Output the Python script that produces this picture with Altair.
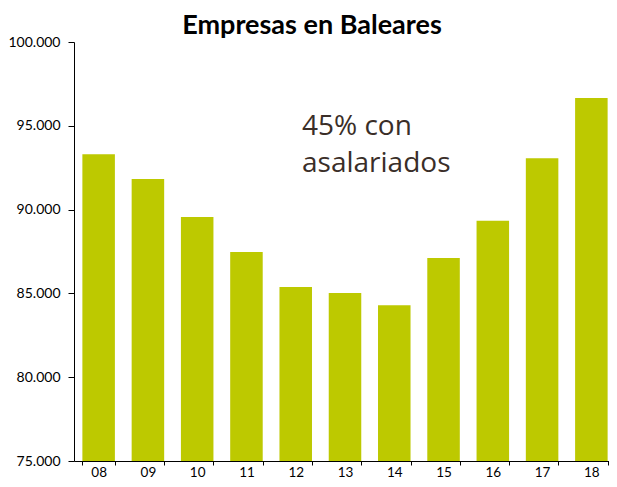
import altair as alt
import pandas as pd

years = ["08", "09", "10", "11", "12", "13", "14", "15", "16", "17", "18"]
empresas = [93300, 91830, 89560, 87470, 85380, 85020, 84290, 87110, 89340, 93060, 96660]
y_ticks = [75000, 80000, 85000, 90000, 95000, 100000]
title_text = "Empresas en Baleares"
note_lines = ["45% con", "asalariados"]

df = pd.DataFrame({"year": years, "empresas": empresas})

bars = alt.Chart(df).mark_bar(color="#bdc900", clip=True).encode(
    x=alt.X("year:N", sort=years, title=None,
            scale=alt.Scale(paddingInner=0.34, paddingOuter=0.17),
            axis=alt.Axis(labelAngle=0, tickBand="extent", tickSize=4,
                          labelPadding=0, domainColor="#000000", tickColor="#000000",
                          labelFont="Lato", labelFontSize=13.5, labelColor="#000000")),
    y=alt.Y("empresas:Q", title=None,
            scale=alt.Scale(domain=[75000, 100000], zero=False, nice=False),
            axis=alt.Axis(values=y_ticks, grid=False, tickSize=6, labelPadding=8,
                          domainColor="#000000", tickColor="#000000",
                          labelFont="Lato", labelFontSize=14, labelColor="#000000",
                          labelExpr="replace(format(datum.value, ',.0f'), ',', '.')")),
)

note = alt.Chart(pd.DataFrame({"t": [0]})).mark_text(
    text=note_lines, align="left", baseline="alphabetic", font="Open Sans",
    fontSize=28, lineHeight=36.7, color="#3a2e28"
).encode(x=alt.value(228), y=alt.value(93))

chart = alt.layer(bars, note).properties(
    width=542, height=419,
    autosize=alt.AutoSizeParams(type="none"),
    padding={"left": 66, "top": 34, "right": -7, "bottom": 18},
    title=alt.TitleParams(title_text, font="Lato", fontSize=27, fontWeight="bold",
                          color="#000000", anchor="middle", frame="bounds", offset=-5),
).configure_view(stroke=None)

chart.save("out.html", embed_options={"renderer": "svg", "actions": False})
